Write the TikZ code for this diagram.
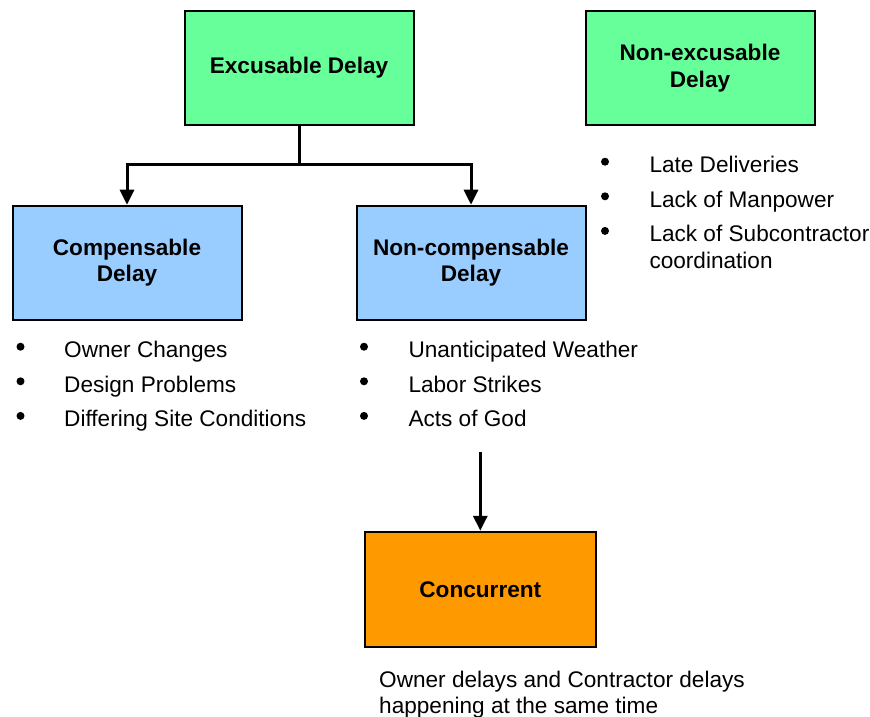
\documentclass[tikz,border=0pt]{standalone}
\usepackage{fontspec}
\setmainfont{Liberation Sans}
\usetikzlibrary{arrows.meta}
\definecolor{excusGreen}{HTML}{66FF99}
\definecolor{compBlue}{HTML}{99CCFF}
\definecolor{concurOrange}{HTML}{FF9900}
\tikzstyle{delayBox}=[rectangle,draw=black,line width=2pt,minimum width=229pt,minimum height=114pt,align=center,font=\fontsize{22.6}{26.5}\selectfont\bfseries]
\tikzstyle{excusBox}=[delayBox,fill=excusGreen]
\tikzstyle{compBox}=[delayBox,fill=compBlue]
\tikzstyle{concurBox}=[delayBox,fill=concurOrange,minimum width=230.5pt,minimum height=115.5pt]
\tikzstyle{itemText}=[anchor=base west,inner sep=0pt,font=\fontsize{22.6}{26.7}\selectfont]
\tikzstyle{itemDot}=[circle,fill=black,inner sep=0pt,minimum size=8pt]
\tikzstyle{link}=[line width=3pt]
\tikzstyle{arrowLink}=[link,-{Triangle[length=15pt,width=14pt]}]

\begin{document}
\begin{tikzpicture}[x=1pt,y=-1pt]
\useasboundingbox (0,0) rectangle (870,716);
\newcommand{\itemGap}{34.6}
        \node[excusBox] (excus) at (299,68) {Excusable Delay};
        \node[excusBox] (nonexcus) at (700,68) {Non-excusable\\Delay};
        \node[compBox] (comp) at (127,262.7) {Compensable\\Delay};
        \node[compBox] (noncomp) at (471,262.7) {Non-compensable\\Delay};
        \node[concurBox] (concur) at (480.3,589.5) {Concurrent};
        \foreach \txt [count=\i] in {Owner Changes,Design Problems,Differing Site Conditions} {
                \node[itemText] (compItem\i) 
                at (64,{357.7+\itemGap*(\i-1)}) 
                {\txt};
                \node[itemDot] (compDot\i) 
                at (20.5,{346.7+\itemGap*(\i-1)}) 
                {};
		}
        \foreach \txt [count=\i] in {Unanticipated Weather,Labor Strikes,Acts of God} {
                \node[itemText] (noncompItem\i) 
                at (408.3,{357.7+\itemGap*(\i-1)}) 
                {\txt};
                \node[itemDot] (noncompDot\i) 
                at (364,{346.7+\itemGap*(\i-1)}) 
                {};
		}
        \foreach \txt [count=\i] in {Late Deliveries,Lack of Manpower,{\begin{tabular}[t]{@{}l@{}}Lack of Subcontractor\\coordination\end{tabular}}} {
                \node[itemText] (nonexcusItem\i) 
                at (649.3,{172.7+\itemGap*(\i-1)}) 
                {\txt};
                \node[itemDot] (nonexcusDot\i) 
                at (605,{161.7+\itemGap*(\i-1)}) 
                {};
		}
        \node[anchor=north west,inner sep=0pt,align=left,font=\fontsize{22.6}{26}\selectfont] (sameTime) 
        at (379,671) 
        {Owner delays and Contractor delays\\happening at the same time};
        \coordinate (fork) at (excus.south |- 0,164);
        \coordinate (listEnd) at (concur.north |- 0,452);
        \draw[link] (excus.south) -- (fork);
        \draw[arrowLink] (fork) -| (comp.north);
        \draw[arrowLink] (fork) -| (noncomp.north);
        \draw[arrowLink] (listEnd) -- (concur.north);
\end{tikzpicture}
\end{document}
